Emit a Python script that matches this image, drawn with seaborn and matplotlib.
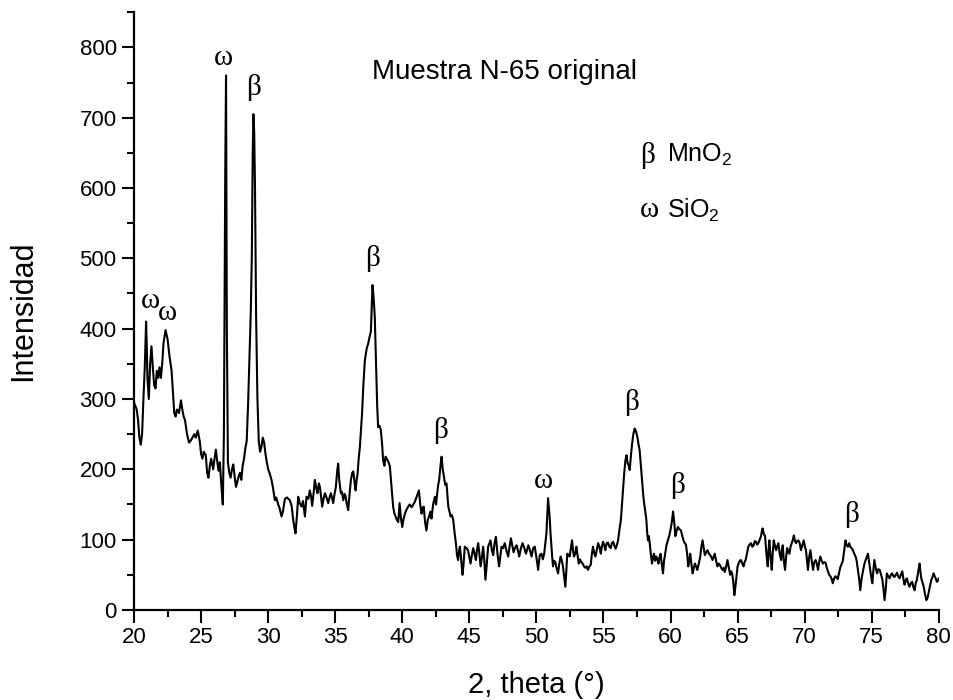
import numpy as np
import pandas as pd
import matplotlib
matplotlib.use("Agg")
import matplotlib.pyplot as plt
import seaborn as sns

# X-ray diffractogram of sample N-65 (2-theta in degrees, intensity in counts)
two_theta = [
    20.00, 20.10, 20.20, 20.30, 20.40, 20.50, 20.60, 20.70, 20.80, 20.90, 20.95, 21.00, 21.10, 21.20,
    21.30, 21.40, 21.50, 21.60, 21.70, 21.80, 21.90, 22.00, 22.10, 22.20, 22.35, 22.50, 22.65, 22.80,
    22.90, 23.00, 23.10, 23.20, 23.35, 23.50, 23.60, 23.70, 23.80, 23.95, 24.10, 24.20, 24.35, 24.50,
    24.60, 24.75, 24.90, 25.00, 25.10, 25.20, 25.35, 25.45, 25.55, 25.65, 25.75, 25.90, 26.00, 26.10,
    26.20, 26.30, 26.40, 26.50, 26.62, 26.70, 26.80, 26.86, 26.92, 27.00, 27.10, 27.20, 27.30, 27.40,
    27.50, 27.60, 27.70, 27.80, 27.90, 28.00, 28.10, 28.20, 28.30, 28.40, 28.50, 28.60, 28.70, 28.78,
    28.85, 28.90, 28.96, 29.02, 29.10, 29.20, 29.30, 29.40, 29.50, 29.60, 29.70, 29.80, 29.90, 30.00,
    30.10, 30.25, 30.35, 30.50, 30.60, 30.75, 30.85, 31.00, 31.10, 31.25, 31.40, 31.50, 31.62, 31.75,
    31.87, 31.95, 32.04, 32.15, 32.24, 32.35, 32.49, 32.60, 32.74, 32.86, 33.00, 33.10, 33.20, 33.28,
    33.40, 33.48, 33.60, 33.68, 33.78, 33.86, 33.95, 34.03, 34.13, 34.23, 34.35, 34.48, 34.58, 34.68,
    34.78, 34.85, 34.95, 35.05, 35.15, 35.22, 35.30, 35.42, 35.50, 35.60, 35.70, 35.77, 35.87, 35.97,
    36.07, 36.17, 36.27, 36.35, 36.45, 36.52, 36.60, 36.67, 36.75, 36.84, 36.92, 37.00, 37.10, 37.21,
    37.35, 37.46, 37.56, 37.66, 37.72, 37.78, 37.86, 37.95, 38.01, 38.07, 38.13, 38.20, 38.30, 38.40,
    38.50, 38.57, 38.67, 38.75, 38.85, 38.95, 39.07, 39.20, 39.32, 39.40, 39.50, 39.60, 39.70, 39.80,
    39.90, 40.00, 40.10, 40.20, 40.30, 40.44, 40.55, 40.70, 40.82, 40.94, 41.05, 41.15, 41.24, 41.34,
    41.44, 41.52, 41.60, 41.70, 41.80, 41.90, 42.00, 42.10, 42.18, 42.30, 42.43, 42.52, 42.60, 42.68,
    42.75, 42.85, 42.93, 43.02, 43.10, 43.20, 43.30, 43.43, 43.52, 43.60, 43.70, 43.80, 43.90, 44.00,
    44.08, 44.16, 44.24, 44.30, 44.40, 44.49, 44.57, 44.66, 44.78, 44.90, 45.00, 45.09, 45.19, 45.29,
    45.39, 45.49, 45.57, 45.66, 45.75, 45.84, 45.94, 46.03, 46.12, 46.20, 46.30, 46.40, 46.50, 46.58,
    46.68, 46.78, 46.88, 46.98, 47.10, 47.22, 47.30, 47.40, 47.52, 47.64, 47.76, 47.90, 48.00, 48.10,
    48.20, 48.30, 48.40, 48.52, 48.62, 48.72, 48.85, 48.97, 49.10, 49.22, 49.30, 49.40, 49.52, 49.64,
    49.76, 49.88, 50.00, 50.07, 50.13, 50.25, 50.38, 50.48, 50.58, 50.67, 50.75, 50.82, 50.87, 50.93,
    50.99, 51.05, 51.12, 51.18, 51.24, 51.32, 51.41, 51.50, 51.62, 51.70, 51.81, 51.90, 51.98, 52.07,
    52.16, 52.23, 52.30, 52.40, 52.48, 52.57, 52.66, 52.73, 52.80, 52.90, 52.98, 53.07, 53.16, 53.25,
    53.35, 53.45, 53.55, 53.65, 53.75, 53.85, 53.95, 54.05, 54.14, 54.22, 54.30, 54.40, 54.50, 54.60,
    54.70, 54.80, 54.88, 54.97, 55.06, 55.14, 55.24, 55.34, 55.44, 55.54, 55.63, 55.72, 55.81, 55.90,
    56.00, 56.09, 56.20, 56.30, 56.38, 56.46, 56.55, 56.64, 56.72, 56.79, 56.88, 56.96, 57.05, 57.14,
    57.23, 57.33, 57.43, 57.53, 57.62, 57.70, 57.79, 57.88, 57.96, 58.03, 58.12, 58.20, 58.26, 58.32,
    58.38, 58.44, 58.53, 58.62, 58.70, 58.77, 58.85, 58.94, 59.02, 59.10, 59.18, 59.26, 59.35, 59.44,
    59.52, 59.60, 59.70, 59.80, 59.90, 60.00, 60.10, 60.19, 60.28, 60.36, 60.45, 60.55, 60.66, 60.78,
    60.88, 60.97, 61.06, 61.15, 61.24, 61.32, 61.40, 61.47, 61.56, 61.65, 61.74, 61.82, 61.91, 62.00,
    62.10, 62.22, 62.30, 62.39, 62.48, 62.56, 62.66, 62.76, 62.86, 62.96, 63.05, 63.13, 63.22, 63.30,
    63.40, 63.50, 63.60, 63.68, 63.78, 63.87, 63.96, 64.05, 64.15, 64.25, 64.35, 64.45, 64.52, 64.60,
    64.68, 64.76, 64.85, 64.93, 65.00, 65.08, 65.16, 65.25, 65.35, 65.45, 65.52, 65.60, 65.70, 65.80,
    65.90, 66.00, 66.10, 66.20, 66.28, 66.37, 66.46, 66.55, 66.65, 66.75, 66.81, 66.87, 66.96, 67.05,
    67.15, 67.25, 67.31, 67.37, 67.46, 67.55, 67.62, 67.70, 67.78, 67.87, 67.95, 68.04, 68.14, 68.25,
    68.30, 68.37, 68.45, 68.54, 68.62, 68.70, 68.78, 68.87, 68.95, 69.04, 69.12, 69.20, 69.28, 69.36,
    69.44, 69.53, 69.63, 69.73, 69.83, 69.93, 70.02, 70.10, 70.18, 70.25, 70.34, 70.43, 70.53, 70.63,
    70.72, 70.82, 70.92, 71.00, 71.08, 71.17, 71.27, 71.37, 71.47, 71.57, 71.65, 71.74, 71.83, 71.92,
    72.00, 72.10, 72.20, 72.30, 72.38, 72.47, 72.56, 72.65, 72.75, 72.85, 72.95, 73.05, 73.13, 73.23,
    73.32, 73.40, 73.50, 73.60, 73.70, 73.80, 73.88, 73.97, 74.06, 74.15, 74.25, 74.35, 74.45, 74.55,
    74.63, 74.72, 74.81, 74.90, 74.98, 75.05, 75.12, 75.20, 75.30, 75.40, 75.50, 75.60, 75.70, 75.80,
    75.88, 75.96, 76.05, 76.13, 76.23, 76.33, 76.43, 76.53, 76.62, 76.70, 76.80, 76.88, 76.98, 77.08,
    77.18, 77.28, 77.36, 77.45, 77.54, 77.62, 77.72, 77.82, 77.92, 78.02, 78.10, 78.20, 78.28, 78.37,
    78.47, 78.57, 78.63, 78.70, 78.80, 78.88, 78.98, 79.08, 79.18, 79.28, 79.36, 79.45, 79.54, 79.62,
    79.70, 79.77, 79.86, 79.95, 80.00,
]

intensity = [
    295, 290, 285, 270, 245, 235, 250, 300, 345, 410, 375, 330, 300, 350,
    375, 345, 320, 315, 340, 330, 345, 330, 350, 380, 398, 385, 360, 340,
    310, 280, 275, 285, 280, 298, 285, 275, 270, 250, 238, 240, 245, 250,
    245, 255, 240, 222, 215, 225, 220, 195, 188, 205, 215, 200, 215, 228,
    212, 198, 210, 180, 150, 250, 620, 760, 400, 210, 195, 188, 200, 207,
    190, 175, 182, 190, 195, 185, 205, 215, 230, 240, 290, 355, 420, 500,
    650, 705, 680, 600, 420, 300, 240, 225, 232, 245, 238, 222, 210, 200,
    195, 185, 175, 156, 160, 150, 145, 133, 140, 158, 160, 158, 156, 148,
    128, 118, 109, 135, 161, 152, 147, 155, 133, 161, 158, 170, 162, 148,
    168, 185, 172, 166, 180, 175, 160, 147, 158, 166, 160, 152, 160, 166,
    158, 152, 165, 175, 198, 208, 185, 166, 168, 156, 165, 162, 150, 142,
    165, 185, 195, 197, 180, 170, 185, 194, 215, 232, 255, 279, 320, 355,
    372, 379, 388, 396, 430, 462, 445, 417, 375, 331, 290, 260, 262, 256,
    235, 213, 205, 218, 215, 211, 205, 175, 147, 138, 133, 128, 125, 152,
    130, 118, 130, 137, 142, 147, 150, 146, 150, 154, 160, 165, 170, 150,
    137, 145, 147, 125, 113, 128, 133, 140, 130, 150, 161, 150, 165, 178,
    185, 205, 218, 200, 190, 178, 180, 147, 140, 133, 135, 128, 110, 95,
    78, 71, 85, 90, 70, 50, 65, 90, 88, 85, 75, 66, 78, 88,
    80, 71, 85, 95, 80, 62, 75, 90, 70, 43, 65, 90, 95, 99,
    85, 78, 95, 104, 80, 62, 75, 90, 88, 95, 85, 76, 90, 102,
    92, 82, 88, 92, 85, 76, 88, 95, 88, 80, 85, 92, 85, 76,
    88, 90, 75, 66, 57, 78, 80, 72, 80, 95, 109, 140, 159, 145,
    132, 110, 90, 75, 62, 70, 68, 60, 52, 65, 76, 70, 62, 48,
    33, 55, 80, 78, 76, 88, 99, 85, 76, 80, 90, 78, 66, 72,
    68, 66, 62, 60, 62, 57, 62, 64, 80, 90, 82, 76, 85, 95,
    90, 80, 90, 97, 92, 85, 95, 96, 90, 88, 95, 97, 92, 87,
    92, 99, 115, 128, 150, 170, 195, 213, 220, 210, 205, 199, 220, 237,
    250, 258, 254, 246, 235, 227, 205, 185, 165, 152, 140, 128, 110, 99,
    105, 97, 80, 66, 75, 80, 70, 76, 72, 66, 75, 80, 65, 52,
    70, 80, 92, 99, 105, 114, 125, 140, 125, 105, 112, 118, 115, 113,
    105, 99, 95, 93, 80, 62, 70, 80, 65, 52, 60, 66, 62, 57,
    65, 76, 90, 99, 88, 78, 82, 85, 80, 78, 75, 71, 76, 80,
    70, 62, 66, 64, 60, 57, 60, 54, 62, 71, 60, 50, 55, 52,
    40, 21, 35, 50, 62, 66, 70, 71, 66, 62, 68, 71, 80, 90,
    93, 95, 90, 92, 98, 97, 93, 95, 100, 105, 112, 116, 108, 105,
    80, 62, 85, 99, 75, 57, 80, 99, 92, 85, 90, 95, 80, 71,
    85, 92, 70, 57, 75, 88, 82, 80, 90, 95, 100, 106, 98, 95,
    98, 99, 95, 85, 92, 99, 90, 85, 70, 57, 75, 85, 70, 57,
    68, 71, 65, 57, 68, 76, 70, 66, 68, 67, 60, 55, 50, 48,
    45, 38, 45, 48, 46, 44, 52, 60, 65, 70, 85, 99, 92, 90,
    95, 90, 88, 85, 80, 76, 70, 57, 45, 28, 45, 55, 65, 71,
    75, 80, 68, 55, 45, 38, 55, 71, 60, 52, 58, 57, 50, 43,
    30, 14, 30, 52, 48, 45, 50, 52, 48, 47, 50, 53, 48, 45,
    50, 55, 45, 36, 42, 45, 38, 33, 38, 40, 33, 28, 38, 43,
    55, 66, 55, 45, 38, 33, 22, 14, 18, 28, 35, 43, 47, 52,
    48, 45, 40, 42, 45,
]

# Assigned reflections: position, peak height and phase symbol
peak_theta = [20.90, 22.35, 26.86, 28.90, 37.78, 42.93, 50.87, 57.33, 60.19, 73.05]
peak_height = [410, 398, 760, 705, 462, 218, 159, 258, 140, 99]
peak_phase = ["ω", "ω", "ω", "β", "β", "β", "ω", "β", "β", "β"]

x_ticks = [20, 25, 30, 35, 40, 45, 50, 55, 60, 65, 70, 75, 80]
y_ticks = [0, 100, 200, 300, 400, 500, 600, 700, 800]

sns.set_style("ticks")
plt.rcParams["font.family"] = ["Liberation Sans", "DejaVu Sans"]
plt.rcParams["mathtext.fontset"] = "custom"
plt.rcParams["mathtext.rm"] = "Liberation Sans"
plt.rcParams["mathtext.it"] = "Liberation Sans:italic"

df = pd.DataFrame({"theta": two_theta, "counts": intensity})

fig = plt.figure(figsize=(9.54, 7.0), dpi=100)
ax = fig.add_axes([0.1405, 0.1286, 0.8435, 0.854])

sns.lineplot(data=df, x="theta", y="counts", ax=ax, color="black",
             linewidth=1.5, sort=False, estimator=None)

ax.set_xlim(20, 80)
ax.set_ylim(0, 850)
ax.set_xticks(x_ticks)
ax.set_yticks(y_ticks)
ax.set_xticks(np.arange(20, 80.1, 2.5), minor=True)
ax.set_yticks(np.arange(0, 851, 50), minor=True)
ax.tick_params(axis="both", which="major", direction="out", length=9, width=1.5,
               labelsize=16, color="black", labelcolor="black")
ax.tick_params(axis="both", which="minor", direction="out", length=5, width=1.5,
               color="black")

for side in ("top", "right"):
    ax.spines[side].set_visible(False)
for side in ("left", "bottom"):
    ax.spines[side].set_linewidth(1.6)
    ax.spines[side].set_color("black")

ax.set_xlabel("2, theta (°)", fontsize=21, labelpad=16, color="black")
ax.set_ylabel("Intensidad", fontsize=22, labelpad=30, color="black")

# Phase symbols above the reflections
greek = ["Liberation Serif", "DejaVu Serif"]
x_shift = {0: 3, 1: 1, 2: -2, 3: 0, 4: 0, 5: -1, 6: -3, 7: -2, 8: 3, 9: 4}
for i, (px, py, sym) in enumerate(zip(peak_theta, peak_height, peak_phase)):
    dy = 13.5 if sym == "β" else 7.5
    if i == 0:
        dy = 10
    ax.annotate(sym, xy=(px, py), xytext=(x_shift[i], dy), textcoords="offset points",
                ha="center", va="baseline", fontsize=21, family=greek, color="black")

ax.text(0.296, 0.90, "Muestra N-65 original", transform=ax.transAxes,
        fontsize=20, color="black", va="center", ha="left")

ax.text(0.629, 0.761, "β", transform=ax.transAxes, fontsize=21, family=greek,
        color="black", va="center", ha="left")
ax.text(0.662, 0.761, r"MnO$_2$", transform=ax.transAxes, fontsize=18,
        color="black", va="center", ha="left")
ax.text(0.629, 0.669, "ω", transform=ax.transAxes, fontsize=21, family=greek,
        color="black", va="center", ha="left")
ax.text(0.662, 0.669, r"SiO$_2$", transform=ax.transAxes, fontsize=18,
        color="black", va="center", ha="left")

fig.savefig("out.png", dpi=100, facecolor="white")
